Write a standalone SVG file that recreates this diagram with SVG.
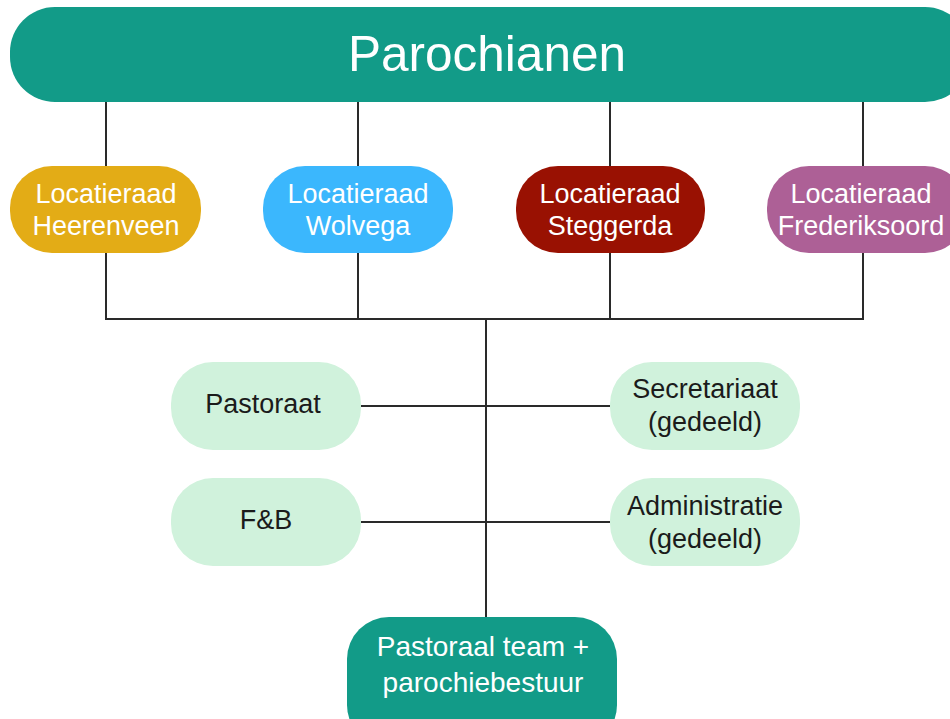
<svg xmlns="http://www.w3.org/2000/svg" width="950" height="719" viewBox="0 0 950 719">
<style>
.t{font-family:"Liberation Sans",Arial,sans-serif;text-anchor:middle}
.w{fill:#ffffff}
.k{fill:#1b1b1b}
.ln{stroke:#2a2a2a;stroke-width:2;fill:none}
.lg{fill:#d0f2dc}
</style>
<rect width="950" height="719" fill="#ffffff"/>
<g id="connectors">
<line class="ln" x1="106" y1="100" x2="106" y2="168"/>
<line class="ln" x1="358" y1="100" x2="358" y2="168"/>
<line class="ln" x1="610" y1="100" x2="610" y2="168"/>
<line class="ln" x1="863" y1="100" x2="863" y2="168"/>
<polyline class="ln" points="106,251 106,319 863,319 863,251"/>
<line class="ln" x1="358" y1="251" x2="358" y2="319"/>
<line class="ln" x1="610" y1="251" x2="610" y2="319"/>
<line class="ln" x1="486" y1="319" x2="486" y2="618"/>
<line class="ln" x1="360" y1="406" x2="612" y2="406"/>
<line class="ln" x1="360" y1="522" x2="612" y2="522"/>
</g>
<g id="parochianen">
<rect x="10" y="7" width="960" height="95" rx="45" fill="#129b88"/>
<text class="t w" x="487" y="71" font-size="49.5">Parochianen</text>
</g>
<g id="heerenveen">
<rect x="10" y="166" width="191" height="87" rx="42" fill="#e3ac16"/>
<text class="t w" x="106" y="203" font-size="27">Locatieraad</text>
<text class="t w" x="106" y="235" font-size="27">Heerenveen</text>
</g>
<g id="wolvega">
<rect x="263" y="166" width="190" height="87" rx="42" fill="#3bb7fd"/>
<text class="t w" x="358" y="203" font-size="27">Locatieraad</text>
<text class="t w" x="358" y="235" font-size="27">Wolvega</text>
</g>
<g id="steggerda">
<rect x="516" y="166" width="189" height="87" rx="42" fill="#991102"/>
<text class="t w" x="610" y="203" font-size="27">Locatieraad</text>
<text class="t w" x="610" y="235" font-size="27">Steggerda</text>
</g>
<g id="frederiksoord">
<rect x="767" y="166" width="200" height="87" rx="42" fill="#ad6096"/>
<text class="t w" x="861" y="203" font-size="27">Locatieraad</text>
<text class="t w" x="861" y="235" font-size="27">Frederiksoord</text>
</g>
<g id="pastoraat">
<rect class="lg" x="171" y="362" width="190" height="88" rx="42"/>
<text class="t k" x="263" y="413" font-size="27">Pastoraat</text>
</g>
<g id="fb">
<rect class="lg" x="171" y="478" width="190" height="88" rx="42"/>
<text class="t k" x="266" y="529" font-size="27">F&amp;B</text>
</g>
<g id="secretariaat">
<rect class="lg" x="610" y="362" width="190" height="88" rx="42"/>
<text class="t k" x="705" y="398" font-size="27">Secretariaat</text>
<text class="t k" x="705" y="431" font-size="27">(gedeeld)</text>
</g>
<g id="administratie">
<rect class="lg" x="610" y="478" width="190" height="88" rx="42"/>
<text class="t k" x="705" y="515" font-size="27">Administratie</text>
<text class="t k" x="705" y="548" font-size="27">(gedeeld)</text>
</g>
<g id="pastoraal-team">
<rect x="347" y="617" width="270" height="130" rx="42" fill="#129b88"/>
<text class="t w" x="483" y="656" font-size="28">Pastoraal team +</text>
<text class="t w" x="483" y="692" font-size="28">parochiebestuur</text>
</g>
</svg>
